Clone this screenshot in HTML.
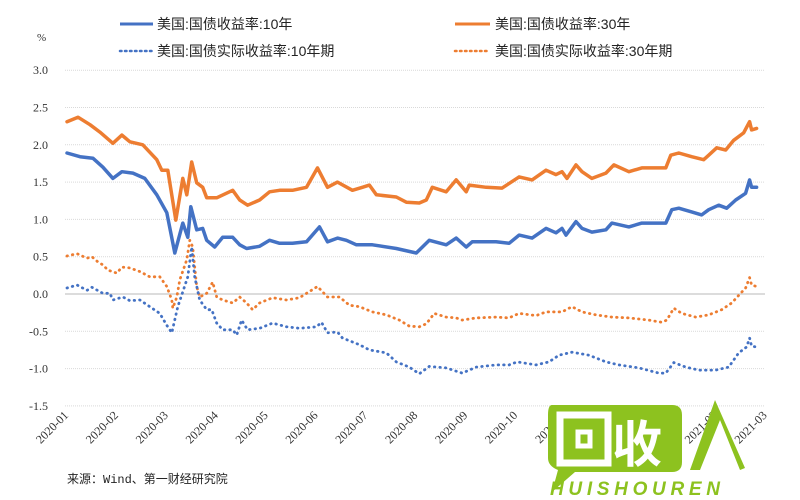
<!DOCTYPE html>
<html><head><meta charset="utf-8">
<style>
body{margin:0;background:#fff;}
svg{display:block;font-family:"Liberation Serif","Noto Serif CJK SC",serif;}
.lg{font-family:"Liberation Sans","Noto Sans CJK SC",sans-serif;font-size:14px;fill:#222;}
</style></head>
<body>
<svg id="chart" width="800" height="500" viewBox="0 0 800 500">
<g id="grid"></g><g id="yax"></g><g id="xax"></g><g id="series"></g>
<g>
 <line x1="120" y1="24" x2="153" y2="24" stroke="#4472c4" stroke-width="3"/>
 <text class="lg" x="157" y="29">美国:国债收益率:10年</text>
 <line x1="455" y1="24" x2="490" y2="24" stroke="#ed7d31" stroke-width="3"/>
 <text class="lg" x="495" y="29">美国:国债收益率:30年</text>
 <line x1="120" y1="51" x2="153" y2="51" stroke="#4472c4" stroke-width="2.5" stroke-dasharray="1.5 3.5" stroke-linecap="round"/>
 <text class="lg" x="157" y="56">美国:国债实际收益率:10年期</text>
 <line x1="455" y1="51" x2="490" y2="51" stroke="#ed7d31" stroke-width="2.5" stroke-dasharray="1.5 3.5" stroke-linecap="round"/>
 <text class="lg" x="495" y="56">美国:国债实际收益率:30年期</text>
</g>
<text x="37" y="41" font-size="11" fill="#333">%</text>
<text x="67" y="483" font-size="12" fill="#222" font-family="Liberation Mono,'Noto Sans CJK SC',monospace">来源：Wind、第一财经研究院</text>
<g>
 <path d="M552 405 H672 Q682 405 682 415 V462 Q682 472 672 472 H575 L552 492 L558 470 Q548 466 548 458 V415 Q548 405 552 405 Z" fill="#8dc21f"/>
 <rect x="560" y="415" width="48" height="48" fill="none" stroke="#fff" stroke-width="7"/>
 <rect x="578" y="432" width="12" height="14" fill="none" stroke="#fff" stroke-width="5"/>
 <text x="612" y="462" font-size="50" font-weight="bold" fill="#fff" font-family="'Noto Sans CJK SC',sans-serif">收</text>
 <path d="M715 400 L690 470 L700 470 L720 420 L740 470 L745 468 Z" fill="#8dc21f"/>
 <text x="550" y="495" font-size="19" font-weight="bold" font-style="italic" fill="#8dc21f" font-family="'Liberation Sans',sans-serif" textLength="170">HUISHOUREN</text>
</g>
</svg>
<script>
const yTicks=[3.0,2.5,2.0,1.5,1.0,0.5,0.0,-0.5,-1.0,-1.5];
const xLabels=["2020-01","2020-02","2020-03","2020-04","2020-05","2020-06","2020-07","2020-08","2020-09","2020-10","2020-11","2020-12","2021-01","2021-02","2021-03"];
const t10=[0.02,0.28,0.54,0.74,0.94,1.12,1.34,1.58,1.82,2.02,2.18,2.34,2.44,2.50,2.62,2.74,2.82,2.98,3.14,3.34,3.48,3.62,3.88,4.08,4.28,4.54,4.82,5.08,5.24,5.44,5.62,5.82,6.14,6.62,7.02,7.28,7.62,7.82,8.02,8.14,8.62,8.88,9.08,9.34,9.62,9.82,9.94,10.02,10.22,10.34,10.54,10.82,10.94,11.28,11.54,12.02,12.14,12.28,12.54,12.74,12.88,13.08,13.24,13.42,13.62,13.70,13.74,13.84];
const y10=[1.89,1.84,1.82,1.70,1.55,1.64,1.62,1.55,1.33,1.09,0.55,0.95,0.76,1.17,0.86,0.88,0.72,0.63,0.76,0.76,0.66,0.61,0.64,0.72,0.68,0.68,0.70,0.90,0.70,0.75,0.72,0.66,0.66,0.61,0.55,0.72,0.66,0.75,0.63,0.70,0.70,0.68,0.79,0.75,0.88,0.82,0.88,0.79,0.97,0.88,0.83,0.86,0.95,0.90,0.95,0.95,1.13,1.15,1.10,1.06,1.13,1.19,1.15,1.26,1.35,1.53,1.43,1.43];
const t30=[0.02,0.24,0.48,0.68,0.94,1.12,1.28,1.54,1.82,1.92,2.04,2.20,2.34,2.42,2.52,2.62,2.74,2.82,3.02,3.34,3.48,3.64,3.88,4.08,4.28,4.54,4.82,5.04,5.24,5.44,5.74,5.94,6.08,6.22,6.62,6.82,7.08,7.22,7.34,7.62,7.82,8.02,8.08,8.42,8.74,9.08,9.34,9.62,9.82,9.94,10.04,10.22,10.34,10.54,10.82,10.98,11.28,11.54,12.02,12.12,12.28,12.54,12.78,12.88,13.04,13.22,13.38,13.58,13.70,13.74,13.84];
const y30=[2.31,2.37,2.27,2.17,2.02,2.13,2.04,2.00,1.80,1.66,1.66,0.99,1.55,1.33,1.77,1.49,1.43,1.29,1.29,1.39,1.26,1.19,1.26,1.37,1.39,1.39,1.43,1.69,1.43,1.50,1.39,1.43,1.46,1.33,1.30,1.23,1.22,1.26,1.43,1.37,1.53,1.37,1.46,1.43,1.42,1.57,1.53,1.66,1.60,1.64,1.55,1.73,1.64,1.55,1.62,1.73,1.64,1.69,1.69,1.86,1.89,1.84,1.80,1.86,1.96,1.93,2.06,2.16,2.31,2.20,2.22];
const tR10=[0.02,0.22,0.42,0.52,0.74,0.88,0.94,1.14,1.28,1.48,1.68,1.88,2.02,2.12,2.24,2.34,2.44,2.52,2.58,2.68,2.82,2.92,3.02,3.14,3.34,3.42,3.52,3.64,3.88,4.14,4.42,4.68,5.02,5.12,5.24,5.44,5.54,5.88,6.08,6.42,6.62,6.88,7.08,7.28,7.62,7.94,8.22,8.62,8.88,9.04,9.42,9.68,9.88,10.14,10.48,10.82,11.08,11.48,11.88,12.02,12.18,12.42,12.68,13.02,13.28,13.48,13.64,13.70,13.74,13.84];
const yR10=[0.08,0.12,0.05,0.09,0.01,0.01,-0.08,-0.04,-0.09,-0.08,-0.17,-0.26,-0.42,-0.52,-0.17,0.03,0.23,0.63,0.23,-0.08,-0.21,-0.21,-0.39,-0.48,-0.48,-0.55,-0.35,-0.48,-0.46,-0.39,-0.44,-0.46,-0.44,-0.38,-0.52,-0.51,-0.59,-0.68,-0.75,-0.79,-0.91,-0.98,-1.07,-0.97,-0.99,-1.06,-0.98,-0.95,-0.95,-0.91,-0.95,-0.91,-0.82,-0.78,-0.82,-0.91,-0.95,-0.99,-1.06,-1.06,-0.92,-0.98,-1.02,-1.02,-0.98,-0.79,-0.71,-0.59,-0.70,-0.71];
const tR30=[0.02,0.22,0.42,0.52,0.64,0.74,0.84,1.02,1.12,1.28,1.48,1.68,1.88,2.02,2.12,2.14,2.22,2.28,2.42,2.48,2.54,2.62,2.68,2.82,2.94,3.02,3.14,3.34,3.48,3.62,3.74,3.88,4.14,4.42,4.68,5.04,5.24,5.48,5.68,5.88,6.14,6.42,6.68,6.88,7.08,7.22,7.38,7.62,7.82,7.94,8.22,8.62,8.88,9.08,9.42,9.62,9.94,10.14,10.34,10.62,10.94,11.28,11.68,11.94,12.04,12.18,12.34,12.62,12.88,13.14,13.34,13.52,13.62,13.70,13.74,13.84];
const yR30=[0.51,0.54,0.48,0.50,0.43,0.39,0.32,0.28,0.36,0.35,0.30,0.23,0.23,0.10,-0.08,-0.19,-0.04,0.19,0.46,0.72,0.63,0.10,-0.04,0.01,0.16,-0.04,-0.08,-0.12,-0.04,-0.12,-0.21,-0.12,-0.05,-0.08,-0.05,0.10,-0.04,-0.04,-0.15,-0.17,-0.24,-0.28,-0.35,-0.43,-0.44,-0.40,-0.26,-0.31,-0.32,-0.35,-0.32,-0.31,-0.32,-0.26,-0.29,-0.24,-0.24,-0.17,-0.24,-0.28,-0.31,-0.32,-0.35,-0.38,-0.35,-0.19,-0.26,-0.31,-0.28,-0.21,-0.12,0.01,0.08,0.22,0.12,0.10];

const NS="http://www.w3.org/2000/svg";
const X0=66,XM=49.9,PL=65,PR=765;
function xs(m){return X0+m*XM;}
function ys(v){return 294-v*74.6;}
function mk(tag,attrs,parent){const e=document.createElementNS(NS,tag);for(const k in attrs)e.setAttribute(k,attrs[k]);parent.appendChild(e);return e;}
const grid=document.getElementById('grid'),yax=document.getElementById('yax'),xax=document.getElementById('xax'),ser=document.getElementById('series');
yTicks.forEach(v=>{
  const l=mk('line',{x1:PL,x2:PR,y1:ys(v),y2:ys(v),stroke:v===0?'#d0d0d0':'#d9d9d9','stroke-width':v===0?1.5:1,'stroke-dasharray':v===0?'':'1 1'},grid);
  
  
  const t=mk('text',{x:48,y:ys(v)+4,'text-anchor':'end','font-size':12,fill:'#333'},yax);
  
  
  t.textContent=v.toFixed(1);
});
xLabels.forEach((s,i)=>{
  const x=xs(i)+3,y=416;
  const t=mk('text',{x:x,y:y,'text-anchor':'end','font-size':12,fill:'#333',transform:`rotate(-45 ${x} ${y})`},xax);
  
  
  t.textContent=s;
});
function draw(ts,vs,color,dotted,name){
  const n=Math.min(ts.length,vs.length);
  const pts=[];for(let i=0;i<n;i++)pts.push(xs(ts[i]).toFixed(1)+','+ys(vs[i]).toFixed(1));
  const p=mk('polyline',{points:pts.join(' '),fill:'none',stroke:color,'stroke-width':dotted?2.8:3.5,'stroke-linejoin':'round','stroke-linecap':'round'},ser);
  if(dotted)p.setAttribute('stroke-dasharray','0.5 5');
  
  
}
draw(tR30,yR30,'#ed7d31',true,'real-yield-30y-line');
draw(tR10,yR10,'#4472c4',true,'real-yield-10y-line');
draw(t30,y30,'#ed7d31',false,'yield-30y-line');
draw(t10,y10,'#4472c4',false,'yield-10y-line');
</script>
</body></html>
